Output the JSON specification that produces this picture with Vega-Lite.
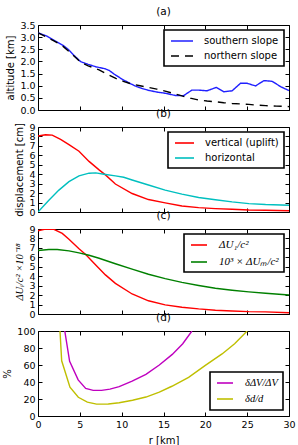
{
  "$schema": "https://vega.github.io/schema/vega-lite/v6.json",
  "padding": {"left": 2, "right": 6, "top": 6, "bottom": 2},
  "background": "white",
  "bounds": "flush",
  "spacing": 17,
  "datasets": {
    "altitude": [
      {"r": 0, "km": 3.18, "profile": "southern slope"},
      {"r": 1, "km": 3.05, "profile": "southern slope"},
      {"r": 2, "km": 2.85, "profile": "southern slope"},
      {"r": 3, "km": 2.66, "profile": "southern slope"},
      {"r": 3.6, "km": 2.5, "profile": "southern slope"},
      {"r": 4.3, "km": 2.25, "profile": "southern slope"},
      {"r": 5.1, "km": 1.99, "profile": "southern slope"},
      {"r": 6, "km": 1.88, "profile": "southern slope"},
      {"r": 6.9, "km": 1.78, "profile": "southern slope"},
      {"r": 8, "km": 1.7, "profile": "southern slope"},
      {"r": 8.5, "km": 1.63, "profile": "southern slope"},
      {"r": 9.1, "km": 1.48, "profile": "southern slope"},
      {"r": 10, "km": 1.28, "profile": "southern slope"},
      {"r": 10.8, "km": 1.13, "profile": "southern slope"},
      {"r": 11.6, "km": 0.99, "profile": "southern slope"},
      {"r": 12.4, "km": 0.89, "profile": "southern slope"},
      {"r": 13.2, "km": 0.81, "profile": "southern slope"},
      {"r": 14.2, "km": 0.74, "profile": "southern slope"},
      {"r": 15.2, "km": 0.69, "profile": "southern slope"},
      {"r": 16.4, "km": 0.6, "profile": "southern slope"},
      {"r": 17.4, "km": 0.59, "profile": "southern slope"},
      {"r": 18.4, "km": 0.82, "profile": "southern slope"},
      {"r": 19.2, "km": 0.82, "profile": "southern slope"},
      {"r": 20.2, "km": 0.79, "profile": "southern slope"},
      {"r": 21.3, "km": 0.93, "profile": "southern slope"},
      {"r": 22.2, "km": 0.75, "profile": "southern slope"},
      {"r": 23.2, "km": 0.79, "profile": "southern slope"},
      {"r": 24.2, "km": 1.1, "profile": "southern slope"},
      {"r": 25, "km": 1.1, "profile": "southern slope"},
      {"r": 26, "km": 0.99, "profile": "southern slope"},
      {"r": 27, "km": 1.21, "profile": "southern slope"},
      {"r": 28, "km": 1.18, "profile": "southern slope"},
      {"r": 29, "km": 0.96, "profile": "southern slope"},
      {"r": 30, "km": 0.8, "profile": "southern slope"},
      {"r": 0, "km": 3.18, "profile": "northern slope"},
      {"r": 1.9, "km": 2.85, "profile": "northern slope"},
      {"r": 3, "km": 2.62, "profile": "northern slope"},
      {"r": 3.9, "km": 2.35, "profile": "northern slope"},
      {"r": 5.1, "km": 1.97, "profile": "northern slope"},
      {"r": 6, "km": 1.82, "profile": "northern slope"},
      {"r": 7.3, "km": 1.65, "profile": "northern slope"},
      {"r": 8.3, "km": 1.47, "profile": "northern slope"},
      {"r": 9.3, "km": 1.3, "profile": "northern slope"},
      {"r": 10.2, "km": 1.18, "profile": "northern slope"},
      {"r": 11.2, "km": 1.07, "profile": "northern slope"},
      {"r": 12.2, "km": 1.0, "profile": "northern slope"},
      {"r": 13.2, "km": 0.93, "profile": "northern slope"},
      {"r": 14.2, "km": 0.86, "profile": "northern slope"},
      {"r": 15.2, "km": 0.78, "profile": "northern slope"},
      {"r": 16.2, "km": 0.68, "profile": "northern slope"},
      {"r": 17.2, "km": 0.58, "profile": "northern slope"},
      {"r": 18.2, "km": 0.49, "profile": "northern slope"},
      {"r": 19.2, "km": 0.41, "profile": "northern slope"},
      {"r": 20.2, "km": 0.37, "profile": "northern slope"},
      {"r": 21.2, "km": 0.34, "profile": "northern slope"},
      {"r": 22.2, "km": 0.3, "profile": "northern slope"},
      {"r": 23.2, "km": 0.27, "profile": "northern slope"},
      {"r": 24.2, "km": 0.25, "profile": "northern slope"},
      {"r": 25.2, "km": 0.23, "profile": "northern slope"},
      {"r": 26.2, "km": 0.2, "profile": "northern slope"},
      {"r": 27.2, "km": 0.18, "profile": "northern slope"},
      {"r": 28.5, "km": 0.16, "profile": "northern slope"},
      {"r": 30, "km": 0.14, "profile": "northern slope"}
    ],
    "displacement": [
      {"r": 0, "cm": 8.04, "component": "vertical (uplift)"},
      {"r": 0.9, "cm": 8.18, "component": "vertical (uplift)"},
      {"r": 1.7, "cm": 8.14, "component": "vertical (uplift)"},
      {"r": 2.7, "cm": 7.68, "component": "vertical (uplift)"},
      {"r": 3.7, "cm": 7.14, "component": "vertical (uplift)"},
      {"r": 4.9, "cm": 6.43, "component": "vertical (uplift)"},
      {"r": 6.1, "cm": 5.36, "component": "vertical (uplift)"},
      {"r": 7.3, "cm": 4.46, "component": "vertical (uplift)"},
      {"r": 8.06, "cm": 3.93, "component": "vertical (uplift)"},
      {"r": 9.25, "cm": 2.96, "component": "vertical (uplift)"},
      {"r": 11.25, "cm": 1.96, "component": "vertical (uplift)"},
      {"r": 13.2, "cm": 1.32, "component": "vertical (uplift)"},
      {"r": 15.2, "cm": 0.96, "component": "vertical (uplift)"},
      {"r": 17.2, "cm": 0.64, "component": "vertical (uplift)"},
      {"r": 19.2, "cm": 0.46, "component": "vertical (uplift)"},
      {"r": 21.2, "cm": 0.36, "component": "vertical (uplift)"},
      {"r": 23.2, "cm": 0.29, "component": "vertical (uplift)"},
      {"r": 25.2, "cm": 0.21, "component": "vertical (uplift)"},
      {"r": 27.2, "cm": 0.18, "component": "vertical (uplift)"},
      {"r": 30, "cm": 0.14, "component": "vertical (uplift)"},
      {"r": 0, "cm": 0, "component": "horizontal"},
      {"r": 1.3, "cm": 1.25, "component": "horizontal"},
      {"r": 2.5, "cm": 2.32, "component": "horizontal"},
      {"r": 3.7, "cm": 3.21, "component": "horizontal"},
      {"r": 4.9, "cm": 3.82, "component": "horizontal"},
      {"r": 6.1, "cm": 4.11, "component": "horizontal"},
      {"r": 6.9, "cm": 4.14, "component": "horizontal"},
      {"r": 7.9, "cm": 4.0, "component": "horizontal"},
      {"r": 9.25, "cm": 3.82, "component": "horizontal"},
      {"r": 10.25, "cm": 3.68, "component": "horizontal"},
      {"r": 11.25, "cm": 3.39, "component": "horizontal"},
      {"r": 13.2, "cm": 2.86, "component": "horizontal"},
      {"r": 15.2, "cm": 2.32, "component": "horizontal"},
      {"r": 17.2, "cm": 1.89, "component": "horizontal"},
      {"r": 19.2, "cm": 1.54, "component": "horizontal"},
      {"r": 21.2, "cm": 1.29, "component": "horizontal"},
      {"r": 23.2, "cm": 1.07, "component": "horizontal"},
      {"r": 25.2, "cm": 0.89, "component": "horizontal"},
      {"r": 27.2, "cm": 0.79, "component": "horizontal"},
      {"r": 30, "cm": 0.71, "component": "horizontal"}
    ],
    "potential": [
      {"r": 0, "v": 8.82, "quantity": "ΔU₁/c²"},
      {"r": 0.9, "v": 9.0, "quantity": "ΔU₁/c²"},
      {"r": 1.9, "v": 8.96, "quantity": "ΔU₁/c²"},
      {"r": 2.9, "v": 8.53, "quantity": "ΔU₁/c²"},
      {"r": 3.7, "v": 7.92, "quantity": "ΔU₁/c²"},
      {"r": 4.9, "v": 6.9, "quantity": "ΔU₁/c²"},
      {"r": 5.7, "v": 6.3, "quantity": "ΔU₁/c²"},
      {"r": 6.9, "v": 5.2, "quantity": "ΔU₁/c²"},
      {"r": 8.06, "v": 4.14, "quantity": "ΔU₁/c²"},
      {"r": 9.25, "v": 3.24, "quantity": "ΔU₁/c²"},
      {"r": 11.25, "v": 2.12, "quantity": "ΔU₁/c²"},
      {"r": 13.2, "v": 1.4, "quantity": "ΔU₁/c²"},
      {"r": 15.2, "v": 0.97, "quantity": "ΔU₁/c²"},
      {"r": 17.2, "v": 0.72, "quantity": "ΔU₁/c²"},
      {"r": 19.2, "v": 0.54, "quantity": "ΔU₁/c²"},
      {"r": 21.2, "v": 0.4, "quantity": "ΔU₁/c²"},
      {"r": 23.2, "v": 0.32, "quantity": "ΔU₁/c²"},
      {"r": 25.2, "v": 0.25, "quantity": "ΔU₁/c²"},
      {"r": 27.2, "v": 0.22, "quantity": "ΔU₁/c²"},
      {"r": 30, "v": 0.14, "quantity": "ΔU₁/c²"},
      {"r": 0, "v": 6.73, "quantity": "10³ × ΔUₘ/c²"},
      {"r": 1.3, "v": 6.83, "quantity": "10³ × ΔUₘ/c²"},
      {"r": 2.3, "v": 6.83, "quantity": "10³ × ΔUₘ/c²"},
      {"r": 3.7, "v": 6.69, "quantity": "10³ × ΔUₘ/c²"},
      {"r": 4.9, "v": 6.47, "quantity": "10³ × ΔUₘ/c²"},
      {"r": 6.1, "v": 6.22, "quantity": "10³ × ΔUₘ/c²"},
      {"r": 7.3, "v": 5.9, "quantity": "10³ × ΔUₘ/c²"},
      {"r": 9.25, "v": 5.32, "quantity": "10³ × ΔUₘ/c²"},
      {"r": 11.25, "v": 4.75, "quantity": "10³ × ΔUₘ/c²"},
      {"r": 13.2, "v": 4.21, "quantity": "10³ × ΔUₘ/c²"},
      {"r": 15.2, "v": 3.74, "quantity": "10³ × ΔUₘ/c²"},
      {"r": 17.2, "v": 3.35, "quantity": "10³ × ΔUₘ/c²"},
      {"r": 19.2, "v": 3.02, "quantity": "10³ × ΔUₘ/c²"},
      {"r": 21.2, "v": 2.73, "quantity": "10³ × ΔUₘ/c²"},
      {"r": 23.2, "v": 2.52, "quantity": "10³ × ΔUₘ/c²"},
      {"r": 25.2, "v": 2.34, "quantity": "10³ × ΔUₘ/c²"},
      {"r": 27.2, "v": 2.19, "quantity": "10³ × ΔUₘ/c²"},
      {"r": 30, "v": 2.01, "quantity": "10³ × ΔUₘ/c²"}
    ],
    "uncertainty": [
      {"r": 3.2, "pct": 100, "quantity": "δΔV/ΔV"},
      {"r": 3.78, "pct": 64.4, "quantity": "δΔV/ΔV"},
      {"r": 4.8, "pct": 42.5, "quantity": "δΔV/ΔV"},
      {"r": 5.7, "pct": 32.5, "quantity": "δΔV/ΔV"},
      {"r": 6.6, "pct": 30.2, "quantity": "δΔV/ΔV"},
      {"r": 7.6, "pct": 30.2, "quantity": "δΔV/ΔV"},
      {"r": 8.6, "pct": 31.6, "quantity": "δΔV/ΔV"},
      {"r": 9.7, "pct": 34.5, "quantity": "δΔV/ΔV"},
      {"r": 11.25, "pct": 41.0, "quantity": "δΔV/ΔV"},
      {"r": 12.9, "pct": 49.0, "quantity": "δΔV/ΔV"},
      {"r": 14.5, "pct": 60.0, "quantity": "δΔV/ΔV"},
      {"r": 16.05, "pct": 72.5, "quantity": "δΔV/ΔV"},
      {"r": 17.3, "pct": 85.0, "quantity": "δΔV/ΔV"},
      {"r": 18.4, "pct": 100, "quantity": "δΔV/ΔV"},
      {"r": 2.63, "pct": 100, "quantity": "δd/d"},
      {"r": 2.83, "pct": 65, "quantity": "δd/d"},
      {"r": 3.82, "pct": 34, "quantity": "δd/d"},
      {"r": 4.82, "pct": 22, "quantity": "δd/d"},
      {"r": 5.9, "pct": 16.3, "quantity": "δd/d"},
      {"r": 7.0, "pct": 14.0, "quantity": "δd/d"},
      {"r": 8.4, "pct": 14.1, "quantity": "δd/d"},
      {"r": 9.7, "pct": 15.6, "quantity": "δd/d"},
      {"r": 11.3, "pct": 18.5, "quantity": "δd/d"},
      {"r": 12.9, "pct": 22.3, "quantity": "δd/d"},
      {"r": 14.5, "pct": 28.0, "quantity": "δd/d"},
      {"r": 16.0, "pct": 35.0, "quantity": "δd/d"},
      {"r": 18.0, "pct": 45.5, "quantity": "δd/d"},
      {"r": 20.0, "pct": 59.5, "quantity": "δd/d"},
      {"r": 22.0, "pct": 73.0, "quantity": "δd/d"},
      {"r": 23.5, "pct": 85.0, "quantity": "δd/d"},
      {"r": 25.0, "pct": 100, "quantity": "δd/d"}
    ]
  },
  "vconcat": [
    {
      "title": "(a)",
      "width": 251,
      "height": 85,
      "data": {"name": "altitude"},
      "layer": [
        {
          "mark": {"type": "line", "strokeWidth": 1.4, "clip": true},
          "encoding": {
            "x": {"field": "r", "type": "quantitative", "scale": {"domain": [0, 30], "nice": false},
                  "axis": {"orient": "bottom", "values": [0, 5, 10, 15, 20, 25, 30], "labels": false, "title": null}},
            "y": {"field": "km", "type": "quantitative", "scale": {"domain": [0, 3.5], "nice": false},
                  "axis": {"orient": "left", "values": [0, 0.5, 1, 1.5, 2, 2.5, 3, 3.5], "format": ".1f", "title": "altitude [km]"}},
            "color": {"field": "profile", "type": "nominal",
                      "scale": {"domain": ["southern slope", "northern slope"], "range": ["#2020ff", "#000000"]},
                      "legend": {"orient": "top-right", "symbolType": "M-0.8,0H3.6", "labelOffset": 23}},
            "strokeDash": {"field": "profile", "type": "nominal",
                           "scale": {"domain": ["southern slope", "northern slope"], "range": [[1, 0], [8, 6]]},
                           "legend": {"orient": "top-right", "symbolType": "M-0.8,0H3.6", "labelOffset": 23}}
          }
        },
        {
          "mark": {"type": "line", "opacity": 0},
          "encoding": {
            "x": {"field": "r", "type": "quantitative", "axis": {"orient": "top", "values": [0, 5, 10, 15, 20, 25, 30], "labels": false, "title": null}},
            "y": {"field": "km", "type": "quantitative", "axis": {"orient": "right", "values": [0, 0.5, 1, 1.5, 2, 2.5, 3, 3.5], "labels": false, "title": null}},
            "detail": {"field": "profile"}
          }
        }
      ],
      "resolve": {"axis": {"x": "independent", "y": "independent"}}
    },
    {
      "title": "(b)",
      "width": 251,
      "height": 85,
      "data": {"name": "displacement"},
      "layer": [
        {
          "mark": {"type": "line", "strokeWidth": 1.4, "clip": true},
          "encoding": {
            "x": {"field": "r", "type": "quantitative", "scale": {"domain": [0, 30], "nice": false},
                  "axis": {"orient": "bottom", "values": [0, 5, 10, 15, 20, 25, 30], "labels": false, "title": null}},
            "y": {"field": "cm", "type": "quantitative", "scale": {"domain": [0, 9], "nice": false},
                  "axis": {"orient": "left", "values": [0, 1, 2, 3, 4, 5, 6, 7, 8, 9], "title": "displacement [cm]"}},
            "color": {"field": "component", "type": "nominal",
                      "scale": {"domain": ["vertical (uplift)", "horizontal"], "range": ["#ff0000", "#00bfbf"]},
                      "legend": {"orient": "top-right", "symbolType": "M-0.8,0H3", "labelOffset": 20}}
          }
        },
        {
          "mark": {"type": "line", "opacity": 0},
          "encoding": {
            "x": {"field": "r", "type": "quantitative", "axis": {"orient": "top", "values": [0, 5, 10, 15, 20, 25, 30], "labels": false, "title": null}},
            "y": {"field": "cm", "type": "quantitative", "axis": {"orient": "right", "values": [0, 1, 2, 3, 4, 5, 6, 7, 8, 9], "labels": false, "title": null}},
            "detail": {"field": "component"}
          }
        }
      ],
      "resolve": {"axis": {"x": "independent", "y": "independent"}}
    },
    {
      "title": "(c)",
      "width": 251,
      "height": 85,
      "data": {"name": "potential"},
      "layer": [
        {
          "mark": {"type": "line", "strokeWidth": 1.4, "clip": true},
          "encoding": {
            "x": {"field": "r", "type": "quantitative", "scale": {"domain": [0, 30], "nice": false},
                  "axis": {"orient": "bottom", "values": [0, 5, 10, 15, 20, 25, 30], "labels": false, "title": null}},
            "y": {"field": "v", "type": "quantitative", "scale": {"domain": [0, 9], "nice": false},
                  "axis": {"orient": "left", "values": [0, 1, 2, 3, 4, 5, 6, 7, 8, 9], "title": "ΔUᵢ/c² ×10⁻¹⁸",
                           "titleFont": "Liberation Serif", "titleFontStyle": "italic", "titleFontSize": 10.5}},
            "color": {"field": "quantity", "type": "nominal",
                      "scale": {"domain": ["ΔU₁/c²", "10³ × ΔUₘ/c²"], "range": ["#ff0000", "#008000"]},
                      "legend": {"orient": "top-right", "symbolType": "M-0.8,0H2.4", "labelOffset": 18,
                                 "labelFont": "Liberation Serif", "labelFontStyle": "italic", "labelFontSize": 11, "rowPadding": 6}}
          }
        },
        {
          "mark": {"type": "line", "opacity": 0},
          "encoding": {
            "x": {"field": "r", "type": "quantitative", "axis": {"orient": "top", "values": [0, 5, 10, 15, 20, 25, 30], "labels": false, "title": null}},
            "y": {"field": "v", "type": "quantitative", "axis": {"orient": "right", "values": [0, 1, 2, 3, 4, 5, 6, 7, 8, 9], "labels": false, "title": null}},
            "detail": {"field": "quantity"}
          }
        }
      ],
      "resolve": {"axis": {"x": "independent", "y": "independent"}}
    },
    {
      "title": "(d)",
      "width": 251,
      "height": 85,
      "data": {"name": "uncertainty"},
      "layer": [
        {
          "mark": {"type": "line", "strokeWidth": 1.4, "clip": true},
          "encoding": {
            "x": {"field": "r", "type": "quantitative", "scale": {"domain": [0, 30], "nice": false},
                  "axis": {"orient": "bottom", "values": [0, 5, 10, 15, 20, 25, 30], "title": "r [km]", "titlePadding": 7}},
            "y": {"field": "pct", "type": "quantitative", "scale": {"domain": [0, 100], "nice": false},
                  "axis": {"orient": "left", "values": [0, 20, 40, 60, 80, 100], "title": "%"}},
            "color": {"field": "quantity", "type": "nominal",
                      "scale": {"domain": ["δΔV/ΔV", "δd/d"], "range": ["#bf00bf", "#bfbf00"]},
                      "legend": {"orient": "bottom-right", "offset": 6, "symbolType": "M-0.8,0H2.4", "labelOffset": 18,
                                 "labelFont": "Liberation Serif", "labelFontStyle": "italic", "labelFontSize": 10.5}}
          }
        },
        {
          "mark": {"type": "line", "opacity": 0},
          "encoding": {
            "x": {"field": "r", "type": "quantitative", "axis": {"orient": "top", "values": [0, 5, 10, 15, 20, 25, 30], "labels": false, "title": null}},
            "y": {"field": "pct", "type": "quantitative", "axis": {"orient": "right", "values": [0, 20, 40, 60, 80, 100], "labels": false, "title": null}},
            "detail": {"field": "quantity"}
          }
        }
      ],
      "resolve": {"axis": {"x": "independent", "y": "independent"}}
    }
  ],
  "resolve": {
    "scale": {"color": "independent", "strokeDash": "independent"},
    "legend": {"color": "independent", "strokeDash": "independent"}
  },
  "config": {
    "font": "DejaVu Sans",
    "view": {"stroke": "#000000", "strokeWidth": 1},
    "title": {"fontSize": 10.5, "fontWeight": "normal", "color": "#000000", "offset": 3},
    "axis": {
      "domain": false,
      "grid": false,
      "minExtent": 0,
      "tickColor": "#000000",
      "tickSize": -4,
      "labelPadding": 7,
      "labelFontSize": 9.5,
      "labelColor": "#000000",
      "labelFlush": false,
      "labelOverlap": false,
      "titleFontSize": 10,
      "titleFontWeight": "normal",
      "titleColor": "#000000",
      "titlePadding": 4
    },
    "legend": {
      "title": null,
      "strokeColor": "#000000",
      "strokeWidth": 1.6,
      "fillColor": "#ffffff",
      "padding": 5,
      "offset": 5,
      "cornerRadius": 0,
      "labelFontSize": 10,
      "labelColor": "#000000",
      "symbolSize": 100,
      "symbolStrokeWidth": 1.6,
      "rowPadding": 4
    }
  }
}
